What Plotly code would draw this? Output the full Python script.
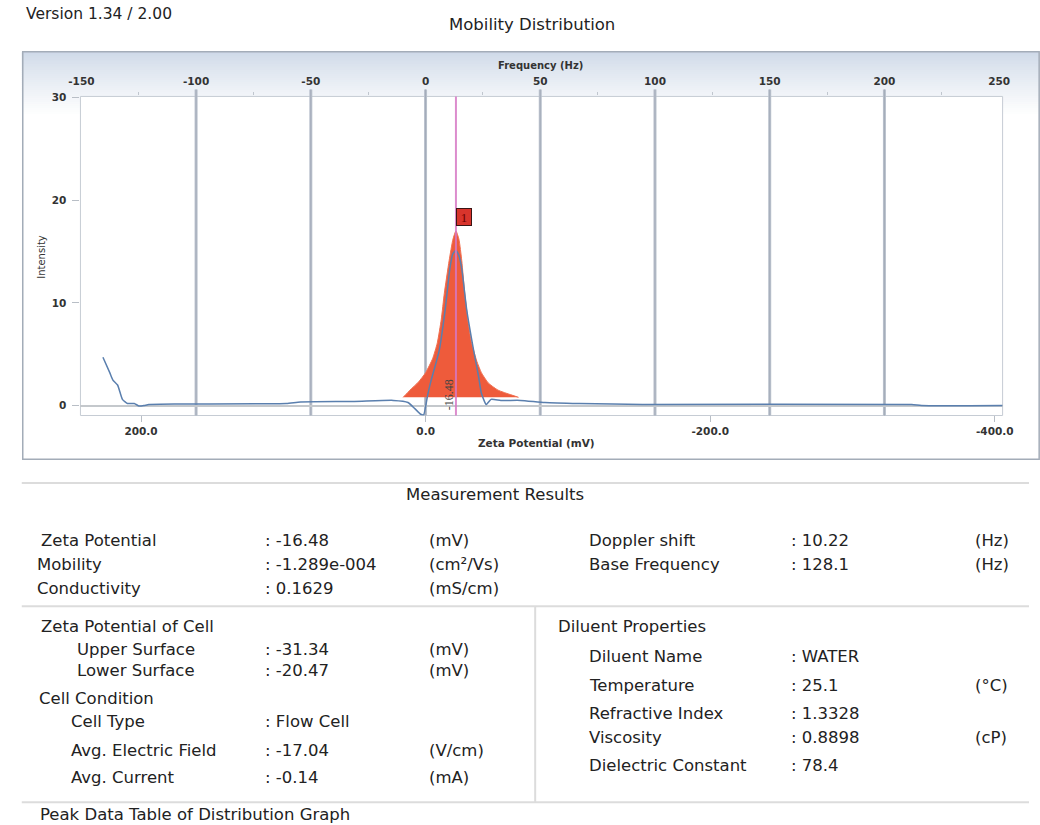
import plotly.graph_objects as go

# ---------------- data ----------------
zeta_meas = [226.8, 222.0, 219.9, 216.5, 213.1, 209.6, 204.8, 201.4, 197.9, 194.5,
             173.9, 98.0, 88.0, 50.2, 22.7, 12.4, 7.6, 3.4, 1.4, -1.4, -3.4, -9.6,
             -13.7, -17.2, -19.2, -21.3, -23.4, -25.4, -28.9, -33.7, -37.1, -39.2,
             -42.6, -46.0, -52.9, -66.7, -83.8, -107.9, -152.6, -341.6, -348.5, -405.5]
intensity_meas = [4.7, 3.2, 2.5, 2.0, 0.6, 0.2, 0.2, -0.05, 0.0, 0.1,
                  0.15, 0.2, 0.35, 0.4, 0.5, 0.3, -0.3, -0.85, -0.9, 1.0, 2.2, 5.4,
                  9.3, 13.5, 14.8, 15.1, 14.6, 13.3, 9.3, 5.4, 2.9, 1.2,
                  0.1, 0.6, 0.5, 0.5, 0.3, 0.2, 0.1, 0.1, 0.0, 0.0]

zeta_fit = [15.8, 11.0, 5.0, 0.0, -5.0, -8.2, -11.0, -13.1, -16.5, -19.2, -21.3,
            -23.4, -25.4, -27.5, -30.0, -32.3, -36.0, -39.2, -44.0, -50.9, -65.3]
intensity_fit = [0.8, 1.5, 2.3, 3.2, 4.6, 6.1, 8.4, 10.9, 14.1, 16.2, 17.0,
                 16.2, 14.1, 10.9, 8.0, 6.1, 4.3, 3.2, 2.2, 1.5, 0.8]

peak_zeta_drawn = -21.3      # where the peak marker sits on the zeta axis
peak_label = "-16.48"
peak_number = "1"
peak_box_y = 18.4

freq_ticks = [-150, -100, -50, 0, 50, 100, 150, 200, 250]
zeta_ticks = [200, 0, -200, -400]
intensity_ticks = [0, 10, 20, 30]
zeta_range = [242.6, -405.5]
freq_range = [-150.4, 251.5]
intensity_range = [-0.97, 30.1]

results_left_labels = ["Zeta Potential", "Mobility", "Conductivity"]
results_left_values = [": -16.48", ": -1.289e-004", ": 0.1629"]
results_left_units = ["(mV)", "(cm\u00b2/Vs)", "(mS/cm)"]
results_right_labels = ["Doppler shift", "Base Frequency"]
results_right_values = [": 10.22", ": 128.1"]
results_right_units = ["(Hz)", "(Hz)"]

cell_labels = ["Zeta Potential of Cell", "Upper Surface", "Lower Surface", "Cell Condition",
               "Cell Type", "Avg. Electric Field", "Avg. Current"]
cell_values = ["", ": -31.34", ": -20.47", "", ": Flow Cell", ": -17.04", ": -0.14"]
cell_units = ["", "(mV)", "(mV)", "", "", "(V/cm)", "(mA)"]

diluent_labels = ["Diluent Properties", "Diluent Name", "Temperature", "Refractive Index",
                  "Viscosity", "Dielectric Constant"]
diluent_values = ["", ": WATER", ": 25.1", ": 1.3328", ": 0.8898", ": 78.4"]
diluent_units = ["", "", "(\u00b0C)", "", "(cP)", ""]

# ---------------- layout helpers ----------------
W, H = 1040, 825
L, R, T, B = 70, 1013, 92, 413


def px(x):
    return x / W


def py(y):
    return 1 - y / H


FONT = "DejaVu Sans"
TXT = "#222222"

fig = go.Figure()

# fitted distribution (filled)
fig.add_trace(go.Scatter(
    x=zeta_fit, y=intensity_fit, mode="lines", fill="toself",
    fillcolor="#ee5b3b", line=dict(color="#f07050", width=1, shape="spline", smoothing=0.5),
    hoverinfo="skip"))

# measured distribution
fig.add_trace(go.Scatter(
    x=zeta_meas, y=intensity_meas, mode="lines",
    line=dict(color="#5a7fae", width=1.5, shape="spline", smoothing=0.5),
    hoverinfo="skip"))

# invisible trace to activate the frequency axis
fig.add_trace(go.Scatter(x=[freq_ticks[0], freq_ticks[-1]], y=[0, 0], xaxis="x2",
                         mode="markers", marker=dict(opacity=0), hoverinfo="skip"))

tickfont = dict(family=FONT, size=10.5, color="#333333", weight="bold")

minor_freq = [(a + b) / 2 for a, b in zip(freq_ticks[:-1], freq_ticks[1:])]

fig.update_layout(
    width=W, height=H, margin=dict(l=0, r=0, t=0, b=0),
    paper_bgcolor="white", plot_bgcolor="white", showlegend=False,
    xaxis=dict(domain=[px(L), px(R)], range=zeta_range, tickvals=zeta_ticks,
               ticktext=[f"{v:.1f}" for v in zeta_ticks], ticks="outside", ticklen=6,
               tickcolor="#b8bec6", showgrid=False, zeroline=False, showline=False,
               tickfont=tickfont, anchor="y"),
    xaxis2=dict(overlaying="x", side="top", anchor="y", range=freq_range,
                tickvals=freq_ticks, ticktext=[str(v) for v in freq_ticks],
                ticks="", showgrid=False, zeroline=False,
                showline=False, tickfont=tickfont, ticklabelstandoff=8,
                minor=dict(ticks="outside", ticklen=3, tickvals=minor_freq,
                           tickcolor="#c0c6ce")),
    yaxis=dict(domain=[py(B), py(T)], range=intensity_range, tickvals=intensity_ticks,
               ticktext=[str(v) for v in intensity_ticks],
               ticks="outside", ticklen=7, tickcolor="#b8bec6", showgrid=False,
               zeroline=True, zerolinecolor="#c4c8cc", zerolinewidth=1.5,
               showline=False, tickfont=tickfont, ticklabelstandoff=4),
)

shapes = []
# header gradient
y0, y1 = 47, 112
n = 32
top_c = (206, 217, 232)
for i in range(n):
    t = i / (n - 1)
    c = tuple(int(top_c[k] + (255 - top_c[k]) * (t ** 0.8)) for k in range(3))
    ya = y0 + (y1 - y0) * i / n
    yb = y0 + (y1 - y0) * (i + 1) / n + 0.5
    shapes.append(dict(type="rect", xref="paper", yref="paper", layer="below",
                       x0=px(10), x1=1.01, y0=py(yb), y1=py(ya),
                       fillcolor=f"rgb{c}", line=dict(width=0)))
# chart box border
shapes.append(dict(type="rect", xref="paper", yref="paper", layer="below",
                   x0=px(11), x1=1.01, y0=py(457), y1=py(47),
                   line=dict(color="#a3acb8", width=1.5)))
# plot area
shapes.append(dict(type="rect", xref="paper", yref="paper", layer="below",
                   x0=px(L), x1=px(R), y0=py(B), y1=py(T), fillcolor="white",
                   line=dict(color="#c6ccd4", width=1)))
# vertical frequency grid lines
for f in freq_ticks[1:-1]:
    shapes.append(dict(type="line", xref="x2", yref="paper", layer="below",
                       x0=f, x1=f, y0=py(B), y1=py(85),
                       line=dict(color="#b9c0cc", width=3)))
    shapes.append(dict(type="line", xref="x2", yref="paper", layer="below",
                       x0=f, x1=f, y0=py(B), y1=py(85),
                       line=dict(color="#a4acb9", width=1)))
# peak marker line
shapes.append(dict(type="line", xref="x", yref="y domain", layer="above",
                   x0=peak_zeta_drawn, x1=peak_zeta_drawn, y0=0, y1=1,
                   line=dict(color="rgba(214,120,196,0.85)", width=2)))

# table lines
for yy in [481, 605, 802]:
    shapes.append(dict(type="line", xref="paper", yref="paper", x0=px(10), x1=1,
                       y0=py(yy), y1=py(yy), line=dict(color="#dcdcdc", width=2)))
shapes.append(dict(type="line", xref="paper", yref="paper", x0=px(535), x1=px(535),
                   y0=py(802), y1=py(605), line=dict(color="#dcdcdc", width=2)))

fig.update_layout(shapes=shapes)

ann = []


def text(x, y, s, size=16.5, anchor="left", **kw):
    ann.append(dict(x=px(x), y=py(y), xref="paper", yref="paper", text=s,
                    showarrow=False, xanchor=anchor, yanchor="middle",
                    font=dict(family=FONT, size=size, color=kw.pop("color", TXT),
                              weight=kw.pop("weight", "normal")), **kw))


text(12, 9, "Version 1.34 / 2.00", size=15.5)
text(532, 20, "Mobility Distribution", size=16.5, anchor="center")
text(540, 61, "Frequency (Hz)", size=10, anchor="center", color="#333333", weight="bold")
text(536, 441, "Zeta Potential (mV)", size=10.5, anchor="center", color="#333333", weight="bold")
text(30, 253, "Intensity", size=10, anchor="center", color="#333333", textangle=-90)

# peak annotations
ann.append(dict(x=peak_zeta_drawn, y=peak_box_y, xref="x", yref="y", text=peak_number,
                showarrow=False, xanchor="left", yanchor="middle", xshift=0,
                width=14, height=16, bgcolor="#d8342c", bordercolor="#3a1515",
                borderwidth=1, borderpad=0,
                font=dict(family="Liberation Serif", size=13, color="#6a0000")))
ann.append(dict(x=peak_zeta_drawn, y=1.1, xref="x", yref="y", text=peak_label,
                showarrow=False, xanchor="center", yanchor="middle", xshift=-7,
                textangle=-90, font=dict(family="Liberation Serif", size=12, color="#444444")))

# Measurement results
text(494, 492, "Measurement Results", size=16.5, anchor="center")
res_rows_y = [539, 563, 587]
res_label_x = [28, 24, 24]
for i, (lab, val, unit) in enumerate(zip(results_left_labels, results_left_values, results_left_units)):
    text(res_label_x[i], res_rows_y[i], lab)
    text(257, res_rows_y[i], val)
    text(424, res_rows_y[i], unit)
for i, (lab, val, unit) in enumerate(zip(results_right_labels, results_right_values, results_right_units)):
    text(588, res_rows_y[i], lab)
    text(795, res_rows_y[i], val)
    text(983, res_rows_y[i], unit)

cell_y = [625, 648, 670, 698, 721, 750, 777]
cell_x = [28, 64, 64, 26, 58, 58, 58]
for i, (lab, val, unit) in enumerate(zip(cell_labels, cell_values, cell_units)):
    text(cell_x[i], cell_y[i], lab)
    if val:
        text(257, cell_y[i], val)
    if unit:
        text(424, cell_y[i], unit)

dil_y = [625, 655, 685, 713, 737, 765]
dil_x = [556, 588, 588, 588, 588, 588]
for i, (lab, val, unit) in enumerate(zip(diluent_labels, diluent_values, diluent_units)):
    text(dil_x[i], dil_y[i], lab)
    if val:
        text(795, dil_y[i], val)
    if unit:
        text(983, dil_y[i], unit)

text(27, 814, "Peak Data Table of Distribution Graph")

fig.update_layout(annotations=ann)
fig.write_html("out.html")
